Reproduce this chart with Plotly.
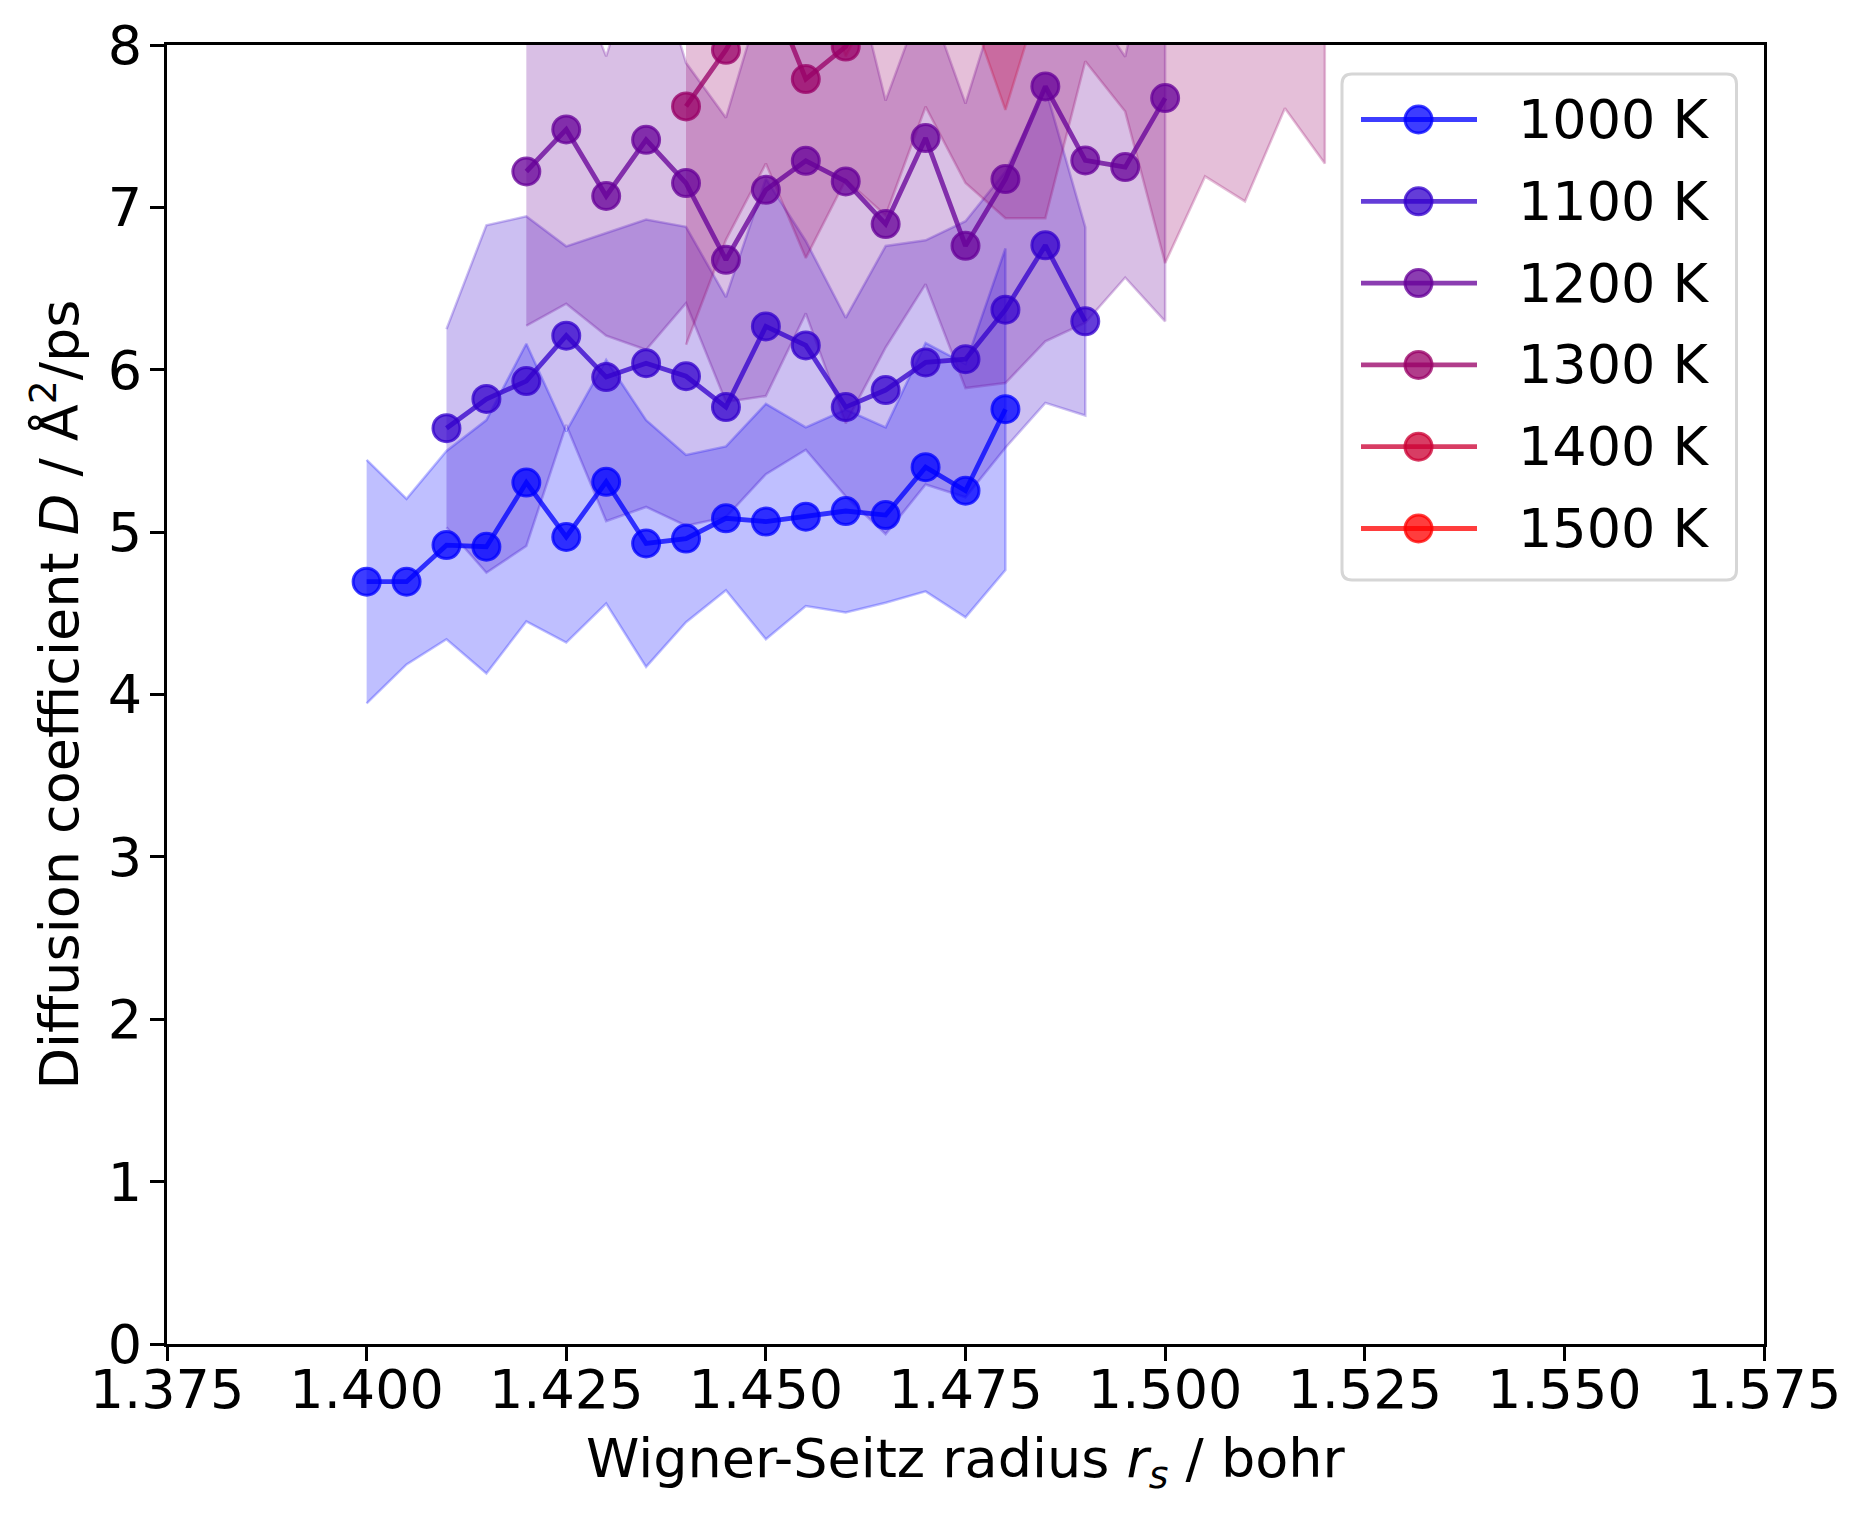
import plotly.graph_objects as go

# ---------------- data ----------------
temps = ["1000 K", "1100 K", "1200 K", "1300 K", "1400 K", "1500 K"]
colors_rgb = [(0, 0, 255), (51, 0, 204), (102, 0, 153), (153, 0, 102), (204, 0, 51), (255, 0, 0)]

x1000 = [1.400, 1.405, 1.410, 1.415, 1.420, 1.425, 1.430, 1.435, 1.440, 1.445,
         1.450, 1.455, 1.460, 1.465, 1.470, 1.475, 1.480]
d1000 = [4.695, 4.695, 4.92, 4.91, 5.305, 4.97, 5.31, 4.93, 4.96, 5.085,
         5.065, 5.095, 5.13, 5.105, 5.40, 5.255, 5.757]
e1000 = [0.75, 0.51, 0.58, 0.78, 0.855, 0.65, 0.75, 0.76, 0.515, 0.443,
         0.725, 0.55, 0.625, 0.54, 0.765, 0.78, 0.99]

x1100 = [1.410, 1.415, 1.420, 1.425, 1.430, 1.435, 1.440, 1.445, 1.450, 1.455,
         1.460, 1.465, 1.470, 1.475, 1.480, 1.485, 1.490]
d1100 = [5.64, 5.82, 5.93, 6.21, 5.955, 6.04, 5.96, 5.77, 6.267, 6.15,
         5.77, 5.875, 6.045, 6.065, 6.37, 6.766, 6.298]
e1100 = [0.61, 1.07, 1.015, 0.55, 0.887, 0.885, 0.92, 0.678, 0.91, 0.643,
         0.55, 0.887, 0.752, 0.85, 0.85, 0.97, 0.58]

x1200 = [1.420, 1.425, 1.430, 1.435, 1.440, 1.445, 1.450, 1.455, 1.460, 1.465,
         1.470, 1.475, 1.480, 1.485, 1.490, 1.495, 1.500]
d1200 = [7.221, 7.48, 7.07, 7.416, 7.15, 6.677, 7.108, 7.287, 7.16, 6.897,
         7.427, 6.763, 7.174, 7.745, 7.289, 7.248, 7.673]
e1200 = [0.95, 1.073, 0.86, 1.293, 0.74, 0.875, 1.27, 0.94, 1.49, 0.76,
         0.90, 0.876, 1.256, 1.57, 1.0, 0.68, 1.375]

x1300 = [1.440, 1.445, 1.450, 1.455, 1.460, 1.465, 1.470, 1.475, 1.480, 1.485,
         1.490, 1.495, 1.500, 1.505, 1.510, 1.515, 1.520]
d1300 = [7.622, 7.97, 8.4, 7.79, 7.99, 8.6, 8.8, 8.5, 8.4, 8.6,
         9.0, 8.7, 8.3, 8.6, 8.5, 8.9, 8.6]
e1300 = [1.468, 1.17, 1.13, 1.102, 0.82, 1.65, 1.18, 1.35, 1.467, 1.667,
         1.10, 1.11, 1.643, 1.409, 1.463, 1.29, 1.33]

x1400 = [1.440, 1.445, 1.450, 1.455, 1.460, 1.465, 1.470, 1.475, 1.480, 1.485,
         1.490, 1.495, 1.500, 1.505, 1.510, 1.515, 1.520]
d1400 = [9.1, 9.3, 9.2, 9.4, 8.9, 9.3, 9.5, 9.2, 8.9, 9.4,
         9.6, 9.3, 9.5, 9.7, 9.4, 9.6, 9.8]
e1400 = [0.8, 0.8, 0.8, 0.8, 0.97, 0.9, 0.9, 0.9, 1.3, 1.0,
         0.9, 0.9, 1.0, 0.9, 0.9, 1.0, 0.9]

x1500 = []
d1500 = []
e1500 = []

xtick_vals = [1.375, 1.400, 1.425, 1.450, 1.475, 1.500, 1.525, 1.550, 1.575]
xtick_text = ["1.375", "1.400", "1.425", "1.450", "1.475", "1.500", "1.525", "1.550", "1.575"]
ytick_vals = [0, 1, 2, 3, 4, 5, 6, 7, 8]
ytick_text = ["0", "1", "2", "3", "4", "5", "6", "7", "8"]

x_title = "Wigner-Seitz radius <i>r<sub>s</sub></i> / bohr"
y_title = "Diffusion coefficient <i>D</i> / Å<sup>2</sup>/ps"

series = [(x1000, d1000, e1000), (x1100, d1100, e1100), (x1200, d1200, e1200),
          (x1300, d1300, e1300), (x1400, d1400, e1400), (x1500, d1500, e1500)]

# ---------------- styling ----------------
OFF = 8  # page body margin
W, H = 1868 - OFF, 1518 - OFF
ML, MR, MT, MB = 167 - OFF, 104, 45 - OFF, 174
PW, PH = W - ML - MR, H - MT - MB
FONT = "DejaVu Sans"
FS = 54
LINE_A = 0.76
BAND_A = 0.25


def rgba(c, a):
    return "rgba(%d,%d,%d,%.3f)" % (c[0], c[1], c[2], a)


def pxx(p):
    return (p - OFF - ML) / PW


def pxy(p):
    return 1 - (p - OFF - MT) / PH


fig = go.Figure()

# bands first (matplotlib collections sit below lines)
for (xs, ds, es), c in zip(series, colors_rgb):
    if not xs:
        continue
    up = [d + e for d, e in zip(ds, es)]
    lo = [d - e for d, e in zip(ds, es)]
    fig.add_trace(go.Scatter(
        x=xs + xs[::-1], y=up + lo[::-1], mode="lines", fill="toself",
        fillcolor=rgba(c, BAND_A), line=dict(color=rgba(c, BAND_A), width=2.5),
        hoverinfo="skip", showlegend=False))

for (xs, ds, es), c, name in zip(series, colors_rgb, temps):
    fig.add_trace(go.Scatter(
        x=xs if xs else [None], y=ds if ds else [None], mode="lines+markers", name=name,
        line=dict(color=rgba(c, LINE_A), width=4.8),
        marker=dict(size=27, color=rgba(c, LINE_A), line=dict(color=rgba(c, LINE_A), width=3)),
        showlegend=False))

# ---------------- legend (matplotlib style) ----------------
shapes = []
annotations = []
bx0, bx1, by0, by1 = pxx(1342), pxx(1736.5), pxy(580), pxy(74)
rx, ry = 10 / PW, 10 / PH
path = ("M {a},{t} L {b},{t} Q {r},{t} {r},{c} L {r},{d} Q {r},{bt} {b},{bt} "
        "L {a},{bt} Q {l},{bt} {l},{d} L {l},{c} Q {l},{t} {a},{t} Z").format(
    a=bx0 + rx, b=bx1 - rx, t=by1, r=bx1, c=by1 - ry, d=by0 + ry, bt=by0, l=bx0)
shapes.append(dict(type="path", xref="paper", yref="paper", path=path,
                   fillcolor="rgba(255,255,255,0.8)", line=dict(color="#d6d6d6", width=3),
                   layer="above"))
for i, (name, c) in enumerate(zip(temps, colors_rgb)):
    ry_px = 119.5 + 81.8 * i
    yy = pxy(ry_px)
    shapes.append(dict(type="line", xref="paper", yref="paper",
                       x0=pxx(1361), x1=pxx(1477), y0=yy, y1=yy,
                       line=dict(color=rgba(c, LINE_A), width=4.8), layer="above"))
    shapes.append(dict(type="circle", xref="paper", yref="paper",
                       xsizemode="pixel", ysizemode="pixel",
                       xanchor=pxx(1418.5), yanchor=yy,
                       x0=-13.5, x1=13.5, y0=-13.5, y1=13.5,
                       fillcolor=rgba(c, LINE_A), line=dict(color=rgba(c, LINE_A), width=3),
                       layer="above"))
    annotations.append(dict(xref="paper", yref="paper", x=pxx(1516), y=yy,
                            xanchor="left", yanchor="middle", text=name, showarrow=False,
                            font=dict(family=FONT, size=FS, color="black")))

# x-axis title placed as in the reference
annotations.append(dict(xref="paper", yref="paper", x=0.5, y=pxy(1462),
                        xanchor="center", yanchor="middle", text=x_title, showarrow=False,
                        font=dict(family=FONT, size=FS, color="black")))

axis_common = dict(showline=True, linecolor="black", linewidth=3.3, mirror=True,
                   ticks="outside", ticklen=14, tickwidth=3.3, tickcolor="black",
                   showgrid=False, zeroline=False,
                   tickfont=dict(family=FONT, size=FS, color="black"))

fig.update_layout(
    width=W, height=H,
    margin=dict(l=ML, r=MR, t=MT, b=MB),
    paper_bgcolor="white", plot_bgcolor="white",
    font=dict(family=FONT, size=FS, color="black"),
    xaxis=dict(range=[1.375, 1.575], tickmode="array", tickvals=xtick_vals, ticktext=xtick_text,
               ticklabelstandoff=-18, automargin=False, **axis_common),
    yaxis=dict(range=[0, 8], tickmode="array", tickvals=ytick_vals, ticktext=ytick_text,
               ticklabelstandoff=-3,
               title=dict(text=y_title, font=dict(family=FONT, size=FS, color="black"), standoff=12),
               automargin=False, **axis_common),
    shapes=shapes, annotations=annotations,
    showlegend=False,
)

fig.write_html("out.html")
